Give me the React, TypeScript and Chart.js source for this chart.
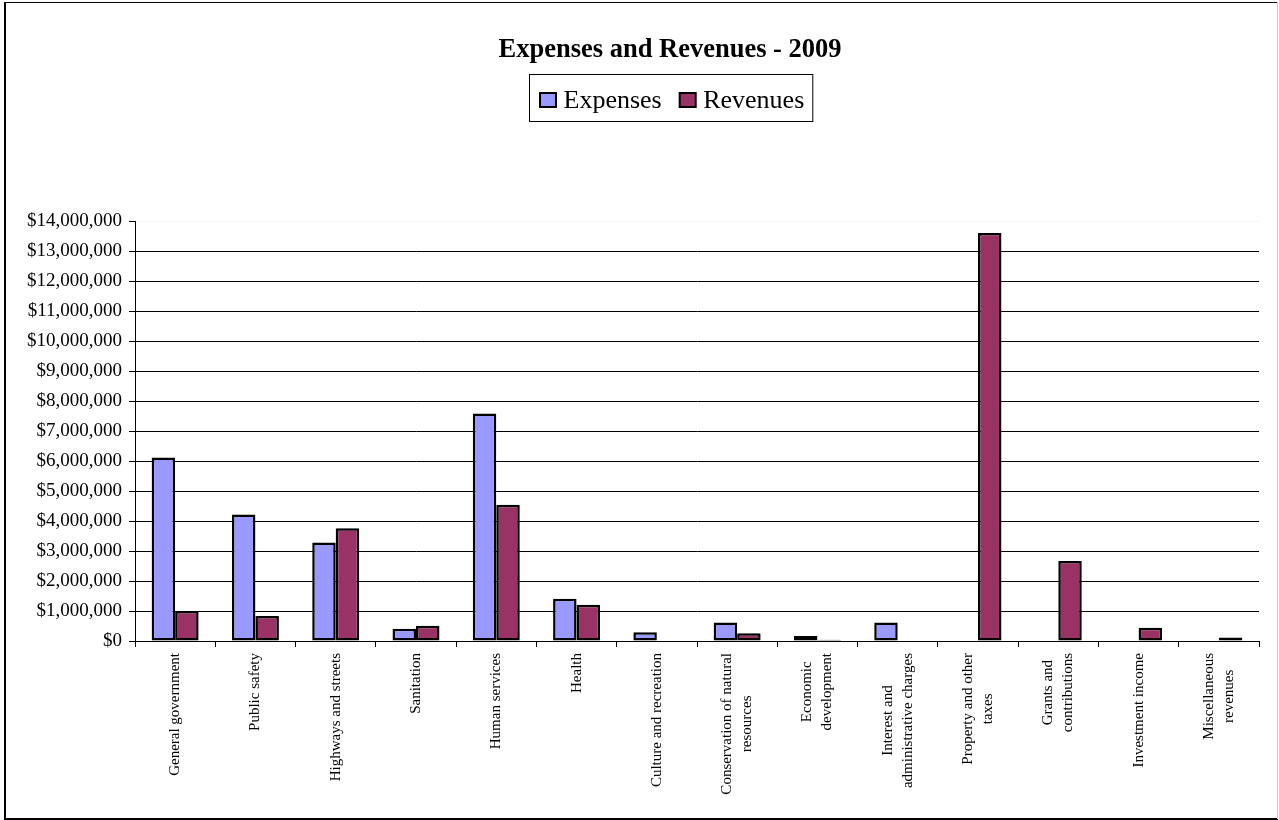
import React, { useEffect, useRef } from 'react';
import { Chart, registerables } from 'chart.js';

Chart.register(...registerables);

const TITLE = 'Expenses and Revenues - 2009';

const categories: (string | string[])[] = [
  'General government',
  'Public safety',
  'Highways and streets',
  'Sanitation',
  'Human services',
  'Health',
  'Culture and recreation',
  ['Conservation of natural', 'resources'],
  ['Economic', 'development'],
  ['Interest and', 'administrative charges'],
  ['Property and other', 'taxes'],
  ['Grants and', 'contributions'],
  'Investment income',
  ['Miscellaneous', 'revenues'],
];

const seriesNames = ['Expenses', 'Revenues'];
const seriesColors = ['#9999FF', '#993366'];

const expenses = [6120000, 4220000, 3280000, 410000, 7580000, 1410000, 290000, 620000, 170000, 620000, 0, 0, 0, 0];
const revenues = [1000000, 830000, 3760000, 510000, 4540000, 1210000, 20000, 260000, 40000, 0, 13600000, 2670000, 440000, 120000];

const Y_MIN = 0;
const Y_MAX = 14000000;
const Y_STEP = 1000000;

const SERIF = "'Liberation Serif', 'Times New Roman', Times, serif";

const decorPlugin = {
  id: 'decor',
  beforeDraw(chart: any) {
    const ctx = chart.ctx;
    ctx.save();
    ctx.fillStyle = '#ffffff';
    ctx.fillRect(0, 0, chart.width, chart.height);
    // outer frame
    ctx.fillStyle = '#000';
    ctx.fillRect(4, 2, 1274, 1);
    ctx.fillRect(4, 2, 2, 817);
    ctx.fillRect(4, 818, 1274, 2);
    ctx.fillStyle = '#c8c8c8';
    ctx.fillRect(1277, 2, 1, 817);

    // title
    ctx.fillStyle = '#000';
    ctx.font = `bold 26.5px ${SERIF}`;
    ctx.textAlign = 'center';
    ctx.textBaseline = 'alphabetic';
    ctx.fillText(TITLE, 670, 57);

    // legend
    ctx.font = `26px ${SERIF}`;
    const ds = chart.data.datasets;
    const widths = ds.map((d: any) => ctx.measureText(d.label).width);
    const sw = 18, sh = 16, gap = 6.5, itemGap = 17, padL = 10, padR = 8;
    let total = padL + padR;
    widths.forEach((w: number, i: number) => {
      total += sw + gap + w + (i > 0 ? itemGap : 0);
    });
    const left = Math.round(670.5 - total / 2);
    ctx.strokeStyle = '#000';
    ctx.lineWidth = 1;
    ctx.strokeRect(left + 0.5, 74.5, total, 47);
    let x = left + padL;
    ctx.textAlign = 'left';
    ds.forEach((d: any, i: number) => {
      ctx.fillStyle = '#000';
      ctx.fillRect(x, 92, sw, sh);
      ctx.fillStyle = d.backgroundColor;
      ctx.fillRect(x + 2, 94, sw - 4, sh - 4);
      ctx.fillStyle = '#000';
      ctx.fillText(d.label, x + sw + gap, 108);
      x += sw + gap + widths[i] + itemGap;
    });
    ctx.restore();
  },
  afterDraw(chart: any) {
    const ctx = chart.ctx;
    const xs = chart.scales.x;
    ctx.save();
    ctx.fillStyle = '#000';
    ctx.font = `15px ${SERIF}`;
    ctx.textAlign = 'center';
    ctx.textBaseline = 'middle';
    const lh = 20;
    const top = chart.chartArea.bottom + 12;
    (chart.data.labels as any[]).forEach((lab, i) => {
      const lines: string[] = Array.isArray(lab) ? lab : [lab];
      const maxW = Math.max(...lines.map((l) => ctx.measureText(l).width));
      const cx = xs.getPixelForValue(i);
      ctx.save();
      ctx.translate(cx, top + maxW / 2);
      ctx.rotate(-Math.PI / 2);
      lines.forEach((l, j) => {
        ctx.fillText(l, 0, (j - (lines.length - 1) / 2) * lh);
      });
      ctx.restore();
    });
    ctx.restore();
  },
};

export default function App() {
  const ref = useRef<HTMLCanvasElement | null>(null);

  useEffect(() => {
    if (!ref.current) return;
    const chart = new Chart(ref.current, {
      type: 'bar',
      data: {
        labels: categories as any,
        datasets: [
          {
            label: seriesNames[0],
            data: expenses,
            backgroundColor: seriesColors[0],
            borderColor: '#000',
            borderWidth: 2.5,
            borderSkipped: false,
            categoryPercentage: 0.585,
            barPercentage: 1,
          },
          {
            label: seriesNames[1],
            data: revenues,
            backgroundColor: seriesColors[1],
            borderColor: '#000',
            borderWidth: 2.5,
            borderSkipped: false,
            categoryPercentage: 0.585,
            barPercentage: 1,
          },
        ],
      },
      options: {
        responsive: false,
        maintainAspectRatio: false,
        animation: false,
        events: [],
        layout: { padding: { left: 10, right: 20, top: 221, bottom: 79 } },
        plugins: {
          legend: { display: false },
          title: { display: false },
          tooltip: { enabled: false },
        },
        scales: {
          x: {
            grid: {
              display: true,
              drawOnChartArea: false,
              drawTicks: true,
              tickLength: 6,
              tickColor: '#000',
              offset: true,
            },
            border: { display: true, color: '#000', width: 1 },
            ticks: { display: false },
            afterFit: (s: any) => {
              s.height = 100;
            },
          },
          y: {
            min: Y_MIN,
            max: Y_MAX,
            grid: {
              color: (c: any) => (c.tick && c.tick.value === Y_MAX ? 'rgba(0,0,0,0.04)' : '#000'),
              tickColor: '#000',
              tickLength: 6,
              lineWidth: 1,
            },
            border: { display: true, color: '#000', width: 1 },
            ticks: {
              stepSize: Y_STEP,
              autoSkip: false,
              padding: 7,
              color: '#000',
              font: { family: SERIF, size: 19 },
              callback: (v: any) => '$' + Number(v).toLocaleString('en-US'),
            },
            afterFit: (s: any) => {
              s.width = 125;
            },
          },
        },
      },
      plugins: [decorPlugin],
    } as any);
    return () => chart.destroy();
  }, []);

  return (
    <div style={{ position: 'fixed', left: 0, top: 0, width: 1279, height: 820, background: '#fff' }}>
      <canvas ref={ref} width={1279} height={820} style={{ display: 'block' }} />
    </div>
  );
}
